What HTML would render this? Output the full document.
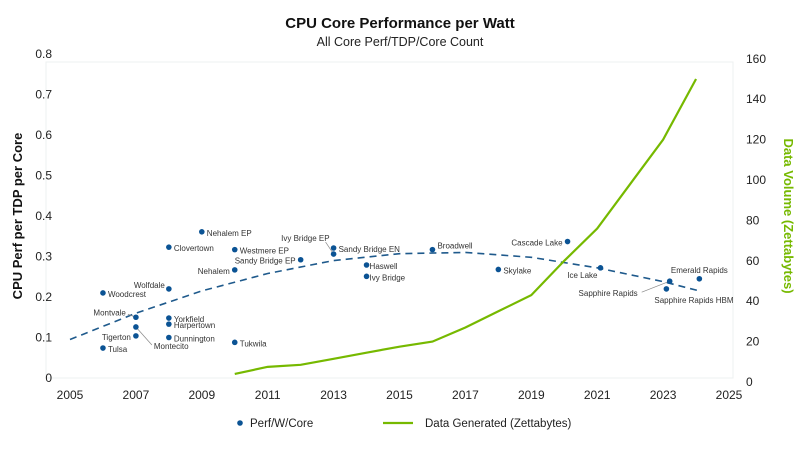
<!DOCTYPE html>
<html><head><meta charset="utf-8"><style>
body{margin:0;background:#fff;width:800px;height:450px;overflow:hidden;font-family:"Liberation Sans",sans-serif}
</style></head><body>
<svg id="chart" width="800" height="450" xmlns="http://www.w3.org/2000/svg" font-family="Liberation Sans, sans-serif">
<rect x="46" y="62" width="687" height="316" fill="none" stroke="#eef0f0" stroke-width="1"/>
<text x="400" y="28" text-anchor="middle" font-size="15" font-weight="bold" fill="#111">CPU Core Performance per Watt</text>
<text x="400" y="46" text-anchor="middle" font-size="12.5" fill="#222">All Core Perf/TDP/Core Count</text>
<text transform="translate(22,216) rotate(-90)" text-anchor="middle" font-size="13" font-weight="bold" fill="#111">CPU Perf per TDP per Core</text>
<text transform="translate(784,216) rotate(90)" text-anchor="middle" font-size="13" font-weight="bold" fill="#76b900">Data Volume (Zettabytes)</text>
<g id="axes"></g><g id="marks"></g>
<circle cx="240" cy="423" r="2.8" fill="#0b5394"/>
<text x="250" y="427" font-size="11.5" fill="#222">Perf/W/Core</text>
<line x1="383" y1="423" x2="413" y2="423" stroke="#76b900" stroke-width="2.2"/>
<text x="425" y="427" font-size="11.5" fill="#222">Data Generated (Zettabytes)</text>
</svg>
<script>
const cpuNames=["Tulsa","Woodcrest","Montvale","Montecito","Tigerton","Wolfdale","Yorkfield","Harpertown","Dunnington","Clovertown","Nehalem EP","Westmere EP","Nehalem","Tukwila","Sandy Bridge EP","Ivy Bridge EP","Sandy Bridge EN","Haswell","Ivy Bridge","Broadwell","Skylake","Cascade Lake","Ice Lake","Sapphire Rapids","Sapphire Rapids HBM","Emerald Rapids"];
const cpuYears=[2006,2006,2007,2007,2007,2008,2008,2008,2008,2008,2009,2010,2010,2010,2012,2013,2013,2014,2014,2016,2018,2020.1,2021.1,2023.2,2023.1,2024.1];
const cpuPerf=[0.074,0.210,0.150,0.126,0.104,0.220,0.148,0.133,0.100,0.323,0.361,0.317,0.267,0.088,0.292,0.306,0.321,0.279,0.251,0.317,0.268,0.337,0.272,0.239,0.220,0.245];
const dataYears=[2010,2011,2012,2013,2014,2015,2016,2017,2018,2019,2020,2021,2022,2023,2024];
const dataZB=[4,7.5,8.5,11.5,14.5,17.5,20,27,35,43,60,76,98,120,150];
const trendYears=[2005,2007,2009,2011,2013,2015,2017,2019,2021,2023,2024.1];
const trendVals=[0.095,0.160,0.215,0.258,0.290,0.307,0.310,0.298,0.272,0.238,0.215];
const xTicks=[2005,2007,2009,2011,2013,2015,2017,2019,2021,2023,2025];
const yTicks=[0,0.1,0.2,0.3,0.4,0.5,0.6,0.7,0.8];
const y2Ticks=[0,20,40,60,80,100,120,140,160];
const X=v=>70+(v-2005)*32.95, Y=v=>378-v*405, Y2=v=>382-v*2.02;
const NS="http://www.w3.org/2000/svg";
const ax=document.getElementById('axes'), mk=document.getElementById('marks');
function mkEl(t,a,p){const e=document.createElementNS(NS,t);for(const k in a)e.setAttribute(k,a[k]);p.appendChild(e);return e;}
xTicks.forEach(t=>{const e=mkEl('text',{x:X(t),y:399,'text-anchor':'middle','font-size':'12',fill:'#222'},ax);e.textContent=t;

});
yTicks.forEach(t=>{const e=mkEl('text',{x:52,y:Y(t)+4,'text-anchor':'end','font-size':'12',fill:'#222'},ax);e.textContent=t===0?'0':t.toFixed(1);

});
y2Ticks.forEach(t=>{const e=mkEl('text',{x:746,y:Y2(t)+4,'font-size':'12',fill:'#222'},ax);e.textContent=t;

});
// trend
const tr=mkEl('path',{d:trendYears.map((y,i)=>(i?'L':'M')+X(y)+','+Y(trendVals[i])).join(''),fill:'none',stroke:'#1f5a8c','stroke-width':1.6,'stroke-dasharray':'7,5'},mk);


// data line
const dl=mkEl('path',{d:dataYears.map((y,i)=>(i?'L':'M')+X(y)+','+Y2(dataZB[i])).join(''),fill:'none',stroke:'#76b900','stroke-width':2.2},mk);


// labels: [dx,dy,anchor,leaderDx,leaderDy]
const lab={"Tulsa":[5,4,'start'],"Woodcrest":[5,4,'start'],"Montvale":[-10,-2,'end',-8,-3],"Montecito":[18,22,'start',16,18],"Tigerton":[-5,4,'end'],"Wolfdale":[-4,-1,'end'],"Yorkfield":[5,4,'start'],"Harpertown":[5,4,'start'],"Dunnington":[5,4,'start'],"Clovertown":[5,4,'start'],"Nehalem EP":[5,4,'start'],"Westmere EP":[5,4,'start'],"Nehalem":[-5,4,'end'],"Tukwila":[5,4,'start'],"Sandy Bridge EP":[-5,4,'end'],"Ivy Bridge EP":[-4,-13,'end',-8,-12],"Sandy Bridge EN":[5,4,'start'],"Haswell":[3,4,'start'],"Ivy Bridge":[3,4,'start'],"Broadwell":[5,-1,'start'],"Skylake":[5,4,'start'],"Cascade Lake":[-5,4,'end'],"Ice Lake":[-3,10,'end'],"Sapphire Rapids":[-32,15,'end',-28,11],"Sapphire Rapids HBM":[-12,14,'start'],"Emerald Rapids":[0,-6,'middle']};
cpuNames.forEach((n,i)=>{const cx=X(cpuYears[i]),cy=Y(cpuPerf[i]);const L=lab[n];
if(L[3]!==undefined){const ln=mkEl('line',{x1:cx,y1:cy,x2:cx+L[3],y2:cy+L[4],stroke:'#888','stroke-width':0.7},mk);

}
const c=mkEl('circle',{cx:cx,cy:cy,r:2.8,fill:'#0b5394'},mk);


const t=mkEl('text',{x:cx+L[0],y:cy+L[1],'text-anchor':L[2],'font-size':'8','fill':'#333'},mk);t.textContent=n;

});
</script>
</body></html>
